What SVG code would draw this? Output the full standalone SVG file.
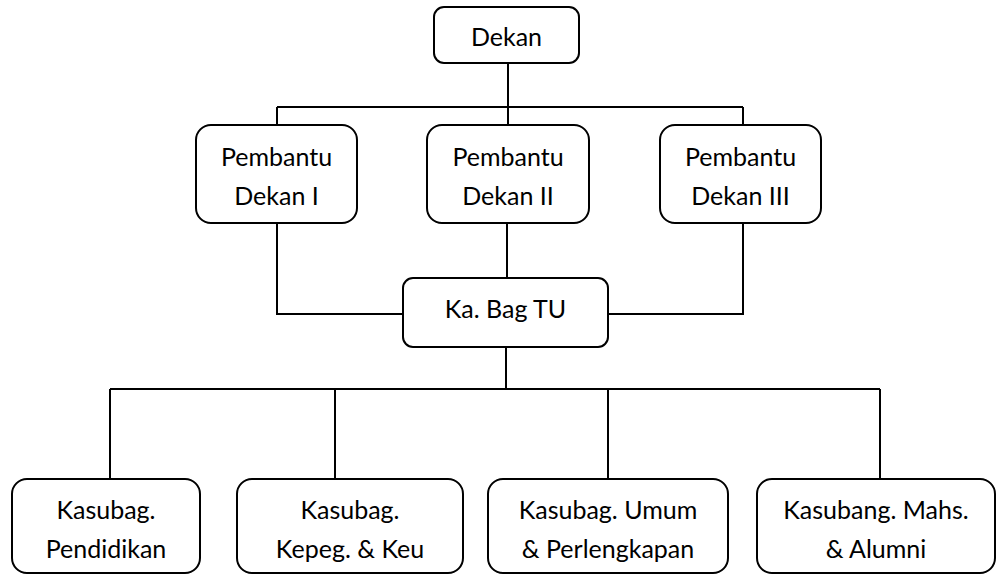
<svg xmlns="http://www.w3.org/2000/svg" width="997" height="575" viewBox="0 0 997 575">
<style>
.box{fill:#fff;stroke:#000;stroke-width:2}
.t{font-family:Lato,"Open Sans",sans-serif;font-size:25px;fill:#000;text-anchor:middle}
.c{fill:none;stroke:#000;stroke-width:2}
</style>
<rect width="997" height="575" fill="#fff"/>
<g id="connectors">
<path class="c" d="M508 63V107M277 107H743M277 107V125M508 107V125M743 107V125"/>
<path class="c" d="M277 223V314H403M507 223V278M743 223V314H608"/>
<path class="c" d="M506 347V389M110 389H880M110 389V479M335 389V479M608 389V479M880 389V479"/>
</g>
<g id="dekan"><rect class="box" x="434" y="7" width="145" height="56" rx="10"/><text class="t" x="506.5" y="46">Dekan</text></g>
<g id="pd1"><rect class="box" x="196" y="125" width="161" height="98" rx="15"/><text class="t" x="276.5" y="166">Pembantu</text><text class="t" x="276.5" y="205">Dekan I</text></g>
<g id="pd2"><rect class="box" x="427" y="125" width="162" height="98" rx="15"/><text class="t" x="508" y="166">Pembantu</text><text class="t" x="508" y="205">Dekan II</text></g>
<g id="pd3"><rect class="box" x="660" y="125" width="161" height="98" rx="15"/><text class="t" x="740.5" y="166">Pembantu</text><text class="t" x="740.5" y="205">Dekan III</text></g>
<g id="kabag"><rect class="box" x="403" y="278" width="205" height="69" rx="10"/><text class="t" x="505.5" y="318">Ka. Bag TU</text></g>
<g id="k1"><rect class="box" x="12" y="479" width="188" height="94" rx="15"/><text class="t" x="106" y="519">Kasubag.</text><text class="t" x="106" y="558">Pendidikan</text></g>
<g id="k2"><rect class="box" x="237" y="479" width="226" height="94" rx="15"/><text class="t" x="350" y="519">Kasubag.</text><text class="t" x="350" y="558">Kepeg. &amp; Keu</text></g>
<g id="k3"><rect class="box" x="488" y="479" width="240" height="94" rx="15"/><text class="t" x="608" y="519">Kasubag. Umum</text><text class="t" x="608" y="558">&amp; Perlengkapan</text></g>
<g id="k4"><rect class="box" x="757" y="479" width="238" height="94" rx="15"/><text class="t" x="876" y="519">Kasubang. Mahs.</text><text class="t" x="876" y="558">&amp; Alumni</text></g>
</svg>
